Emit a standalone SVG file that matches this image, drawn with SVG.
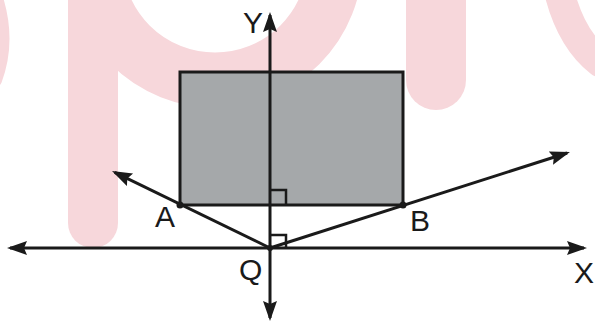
<svg xmlns="http://www.w3.org/2000/svg" width="595" height="322" viewBox="0 0 595 322">
  <style>
    .wm { fill: none; stroke: #f7d7db; stroke-linecap: round; }
    .ln { stroke: #1a1a1a; stroke-width: 3; fill: none; }
    .ra { stroke: #1a1a1a; stroke-width: 2.5; fill: none; }
    .lbl { font-family: "Liberation Sans", Arial, sans-serif; font-size: 30px; fill: #1a1a1a; }
    .dot { fill: #1a1a1a; }
  </style>
  <defs>
    <marker id="arr" markerUnits="userSpaceOnUse" markerWidth="22" markerHeight="16" refX="17" refY="7" orient="auto-start-reverse">
      <path d="M0,0 L20,7 L0,14 L3,7 z" fill="#1a1a1a"/>
    </marker>
  </defs>
  <rect width="595" height="322" fill="#ffffff"/>
  <g id="watermark">
    <circle cx="215" cy="-40" r="120" class="wm" stroke-width="55" stroke-linecap="butt"/>
    <line x1="93" y1="-10" x2="93" y2="223" class="wm" stroke-width="50"/>
    <line x1="436" y1="-10" x2="436" y2="80" class="wm" stroke-width="60"/>
    <path d="M560,-5 Q572,40 600,62" class="wm" stroke-width="30"/>
    <path d="M-5,-5 Q10,40 -5,80" class="wm" stroke-width="14"/>
  </g>
  <g id="rectangle">
    <rect x="180" y="72" width="223" height="133" fill="#a5a8aa" stroke="#1a1a1a" stroke-width="3"/>
  </g>
  <g id="connectors">
    <line id="x-axis" x1="10" y1="248" x2="584" y2="248" class="ln" marker-start="url(#arr)" marker-end="url(#arr)"/>
    <line id="y-axis" x1="270" y1="318" x2="270" y2="15" class="ln" marker-start="url(#arr)" marker-end="url(#arr)"/>
    <line id="ray-QA" x1="270" y1="248" x2="114.7" y2="172.3" class="ln" marker-end="url(#arr)"/>
    <line id="ray-QB" x1="270" y1="248" x2="567.1" y2="153" class="ln" marker-end="url(#arr)"/>
    <path id="right-angle-top" d="M270,190 H286 V205" class="ra"/>
    <path id="right-angle-Q" d="M270,235 H286 V248" class="ra"/>
  </g>
  <g id="node-A">
    <circle cx="180" cy="205" r="3.5" class="dot"/>
    <text x="155" y="227" class="lbl">A</text>
  </g>
  <g id="node-B">
    <circle cx="403" cy="205" r="3.5" class="dot"/>
    <text x="410" y="231" class="lbl">B</text>
  </g>
  <g id="node-Q">
    <circle cx="270" cy="248" r="3" class="dot"/>
    <text x="239" y="280" class="lbl">Q</text>
  </g>
  <g id="label-Y">
    <text x="243" y="33" class="lbl">Y</text>
  </g>
  <g id="label-X">
    <text x="574" y="283" class="lbl">X</text>
  </g>
</svg>
